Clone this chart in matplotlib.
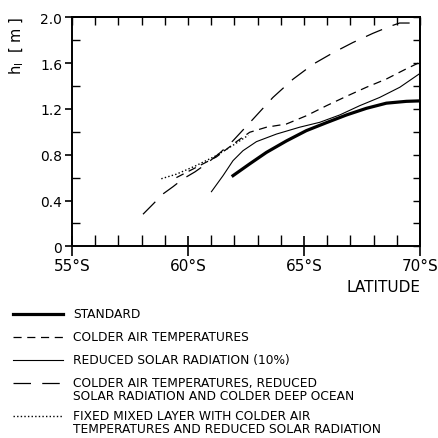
import matplotlib
matplotlib.use('Agg')
import matplotlib.pyplot as plt
from matplotlib.lines import Line2D
from matplotlib.ticker import MultipleLocator, FixedLocator

# Ice thickness (m) against latitude (degrees south) for each experiment
lat_standard = [61.94, 62.66, 63.38, 64.24, 65.10, 65.97, 66.83, 67.69, 68.55, 69.41, 70.0]
h_standard = [0.617, 0.72, 0.82, 0.92, 1.01, 1.08, 1.147, 1.205, 1.25, 1.266, 1.27]

lat_cold_air = [59.5, 60.36, 61.22, 62.09, 62.66, 63.38, 64.24, 65.10, 65.97,
                66.83, 67.69, 68.55, 69.41, 70.0]
h_cold_air = [0.60, 0.69, 0.78, 0.914, 0.996, 1.04, 1.068, 1.14, 1.228,
              1.31, 1.389, 1.461, 1.55, 1.607]

lat_less_sun = [61.01, 61.51, 61.94, 62.37, 62.95, 63.81, 64.81, 65.68, 66.54,
                67.40, 68.26, 69.13, 70.0]
h_less_sun = [0.477, 0.617, 0.748, 0.835, 0.914, 0.98, 1.04, 1.083, 1.147,
              1.228, 1.30, 1.389, 1.51]

lat_cold_ocean = [58.06, 58.5, 58.92, 59.35, 59.78, 60.3, 60.79, 61.4, 61.94,
                  62.80, 63.66, 64.53, 65.39, 66.25, 67.11, 67.97, 68.69, 69.12, 70.0]
h_cold_ocean = [0.28, 0.37, 0.457, 0.52, 0.588, 0.65, 0.72, 0.82, 0.922,
                1.11, 1.30, 1.46, 1.59, 1.69, 1.78, 1.86, 1.92, 1.95, 1.95]

lat_fixed_ml = [58.85, 59.5, 60.3, 61.2, 62.0, 62.6]
h_fixed_ml = [0.59, 0.63, 0.70, 0.79, 0.89, 0.97]

legend_labels = [
    "STANDARD",
    "COLDER AIR TEMPERATURES",
    "REDUCED SOLAR RADIATION (10%)",
    "COLDER AIR TEMPERATURES, REDUCED\nSOLAR RADIATION AND COLDER DEEP OCEAN",
    "FIXED MIXED LAYER WITH COLDER AIR\nTEMPERATURES AND REDUCED SOLAR RADIATION",
]

W, H = 438, 439
fig = plt.figure(figsize=(W / 100, H / 100), dpi=100)
ax = fig.add_axes([72 / W, 1 - 247.3 / H, 348 / W, 229 / H])

styles = [
    dict(color='black', lw=2.3, ls='-'),
    dict(color='black', lw=0.9, ls=(0, (6.5, 4.5))),
    dict(color='black', lw=0.8, ls='-'),
    dict(color='black', lw=0.9, ls=(0, (14, 9))),
    dict(color='black', lw=1.0, ls=(0, (1, 1.6))),
]
series = [
    (lat_standard, h_standard),
    (lat_cold_air, h_cold_air),
    (lat_less_sun, h_less_sun),
    (lat_cold_ocean, h_cold_ocean),
    (lat_fixed_ml, h_fixed_ml),
]
for (x, y), st in zip(series, styles):
    ax.plot(x, y, **st)

ax.set_xlim(55, 70)
ax.set_ylim(0, 2.0)
for s in ax.spines.values():
    s.set_linewidth(1.4)

# x axis: degrees south, ticks every degree
ax.xaxis.set_major_locator(FixedLocator([55, 60, 65, 70]))
ax.xaxis.set_minor_locator(MultipleLocator(1))
ax.set_xticklabels(["55°S", "60°S", "65°S", "70°S"])
ax.tick_params(axis='x', which='major', direction='inout', length=15, width=1.2,
               labelsize=11, pad=1)
ax.tick_params(axis='x', which='minor', direction='in', length=8, width=1.0)

ax.set_yticks([0, 0.4, 0.8, 1.2, 1.6, 2.0])
ax.set_yticklabels(["0", "0.4", "0.8", "1.2", "1.6", "2.0"])
ax.yaxis.set_minor_locator(MultipleLocator(0.2))
ax.tick_params(axis='y', which='major', direction='out', length=5, width=1.2,
               labelsize=10, pad=2)
ax.tick_params(axis='y', which='minor', direction='in', length=6, width=1.0)

# top and right ticks
axt = ax.secondary_xaxis('top')
axt.xaxis.set_major_locator(MultipleLocator(1))
axt.tick_params(direction='in', length=6, width=1.0, labeltop=False)
axt.spines['top'].set_linewidth(1.4)
axr = ax.secondary_yaxis('right')
axr.yaxis.set_major_locator(MultipleLocator(0.2))
axr.tick_params(direction='in', length=5, width=1.0, labelright=False)
axr.spines['right'].set_linewidth(1.4)

fig.text(420 / W, 1 - 288 / H, "LATITUDE", ha='right', va='center', fontsize=11)
fig.text(17 / W, 1 - 46 / H, "h$_\\mathrm{I}$  [ m ]", rotation=90, ha='center',
         va='center', fontsize=10.5)

# legend drawn below the axes
rows = [315, 338, 361, 384, 417]
for yp, st, label in zip(rows, styles, legend_labels):
    fy = 1 - yp / H
    fig.add_artist(Line2D([13 / W, 63 / W], [fy, fy], transform=fig.transFigure,
                          **st))
    fig.text(73 / W, fy + 7 / H, label, ha='left', va='top', fontsize=8.8,
             linespacing=1.05)

fig.savefig('out.png', dpi=100)
